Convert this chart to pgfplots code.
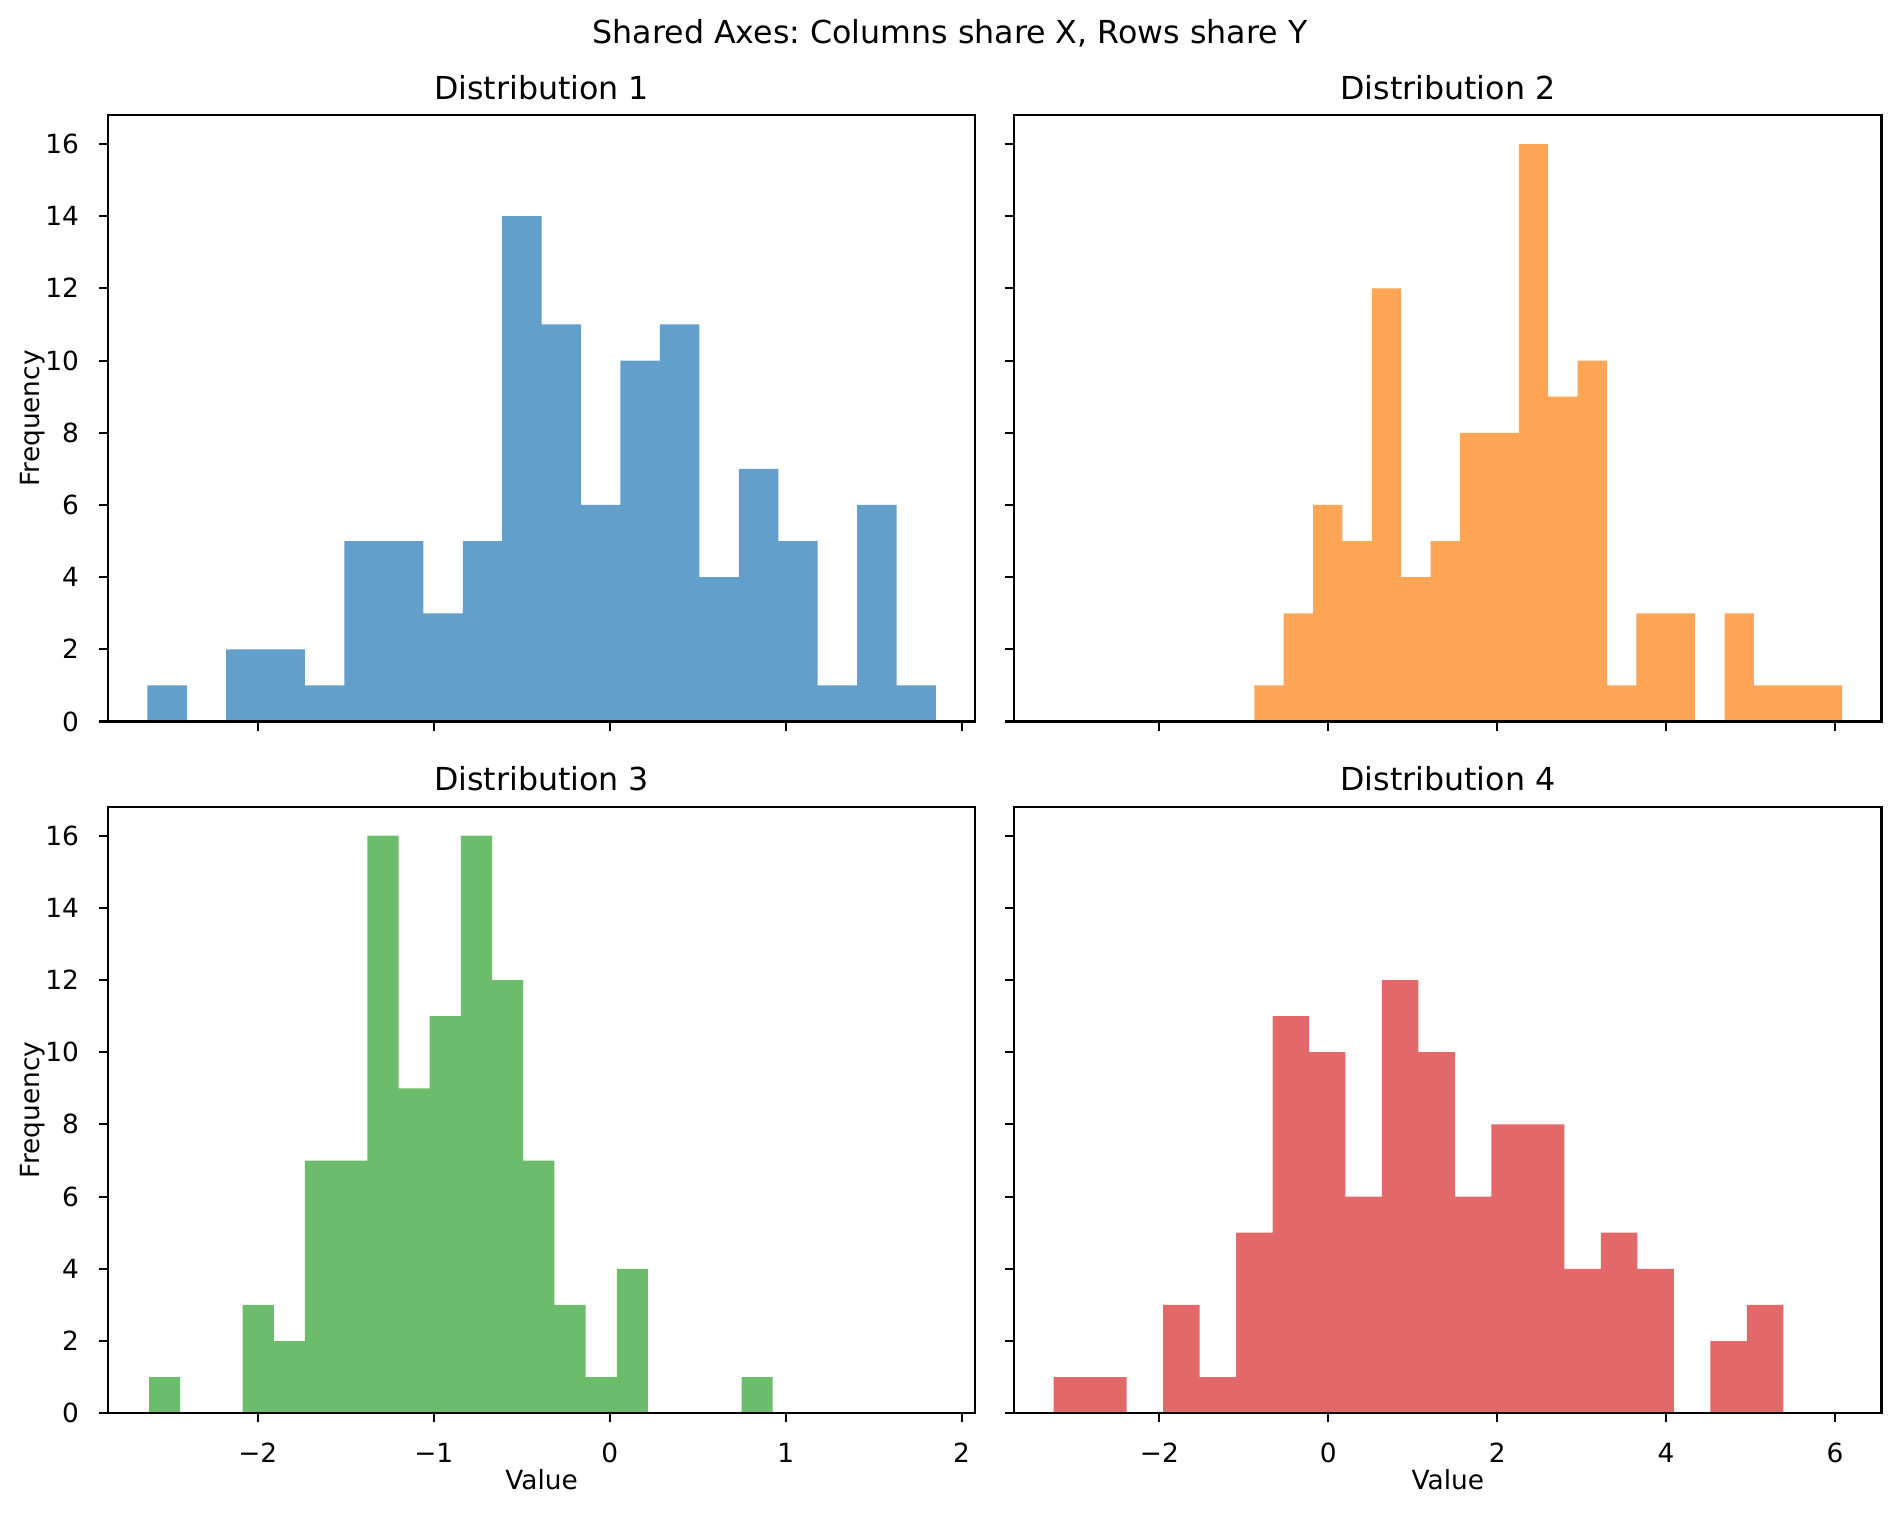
\documentclass[border=0pt]{standalone}
\usepackage{fontspec}
\setmainfont{DejaVu Sans}
\usepackage{pgfplots}
\pgfplotsset{compat=1.18}
\frenchspacing

% tab colours at alpha 0.7 on white
\definecolor{c1}{RGB}{98,160,203}
\definecolor{c2}{RGB}{255,165,86}
\definecolor{c3}{RGB}{107,189,107}
\definecolor{c4}{RGB}{226,104,105}

\pgfplotsset{
  histax/.style={
    scale only axis, width=328.7pt, height=229.8pt,
    anchor=north west,
    ymin=0, ymax=16.8,
    ytick={0,2,...,16},
    tick align=outside, major tick length=3.5pt,
    tick pos=left,
    axis on top,
    axis line style={line width=0.8pt},
    every tick/.style={black, line width=0.8pt},
    ticklabel style={font=\fontsize{10}{12}\selectfont},
    xticklabel style={anchor=base, yshift=-15.2pt},
    yticklabel style={anchor=base east, inner sep=0pt, xshift=-7.3pt, yshift=-3.6pt},
    title style={font=\fontsize{12}{14.4}\selectfont, at={(0.5,1)}, anchor=base, yshift=0pt},
    every axis x label/.style={at={(rel axis cs:0.5,0)}, anchor=base, yshift=-29pt,
      font=\fontsize{10}{12}\selectfont},
    every axis y label/.style={at={(rel axis cs:0,0.5)}, xshift=-25.8pt, rotate=90, anchor=base,
      font=\fontsize{10}{12}\selectfont},
  },
  leftcol/.style={xmin=-2.852, xmax=2.078, xtick={-2,-1,0,1,2},
    yticklabels={0,2,4,6,8,10,12,14,16}, ylabel={Frequency}},
  rightcol/.style={xmin=-3.720, xmax=6.552, xtick={-2,0,2,4,6}, yticklabels={}},
}

\begin{document}
\begin{tikzpicture}
\useasboundingbox (0,0) rectangle (720pt,573.73pt);

\node[font=\fontsize{12}{14.4}\selectfont, anchor=base] at (360pt,557.4pt)
  {Shared Axes: Columns share X, Rows share Y};

% Distribution 1
\begin{axis}[histax, leftcol, at={(40.9pt,530.1pt)}, xticklabels={}, title={Distribution 1}]
\addplot[ybar interval, fill=c1, draw=none] coordinates {
(-2.628,1) (-2.404,0) (-2.180,2) (-1.956,2) (-1.732,1)
(-1.508,5) (-1.283,5) (-1.059,3) (-0.835,5) (-0.611,14)
(-0.387,11) (-0.163,6) (0.061,10) (0.285,11) (0.509,4)
(0.734,7) (0.958,5) (1.182,1) (1.406,6) (1.630,1)
(1.854,0)
};
\end{axis}

% Distribution 2
\begin{axis}[histax, rightcol, at={(384.3pt,530.1pt)}, xticklabels={}, title={Distribution 2}]
\addplot[ybar interval, fill=c2, draw=none] coordinates {
(-0.876,1) (-0.528,3) (-0.180,6) (0.168,5) (0.516,12)
(0.864,4) (1.212,5) (1.560,8) (1.908,8) (2.256,16)
(2.605,9) (2.953,10) (3.301,1) (3.649,3) (3.997,3)
(4.345,0) (4.693,3) (5.041,1) (5.389,1) (5.737,1)
(6.085,0)
};
\end{axis}

% Distribution 3
\begin{axis}[histax, leftcol, at={(40.9pt,268.0pt)},
  xticklabels={−2,−1,0,1,2}, xlabel={Value}, title={Distribution 3}]
\addplot[ybar interval, fill=c3, draw=none] coordinates {
(-2.618,1) (-2.441,0) (-2.264,0) (-2.086,3) (-1.909,2)
(-1.732,7) (-1.555,7) (-1.378,16) (-1.200,9) (-1.023,11)
(-0.846,16) (-0.669,12) (-0.492,7) (-0.314,3) (-0.137,1)
(0.040,4) (0.217,0) (0.394,0) (0.571,0) (0.749,1)
(0.926,0)
};
\end{axis}

% Distribution 4
\begin{axis}[histax, rightcol, at={(384.3pt,268.0pt)},
  xticklabels={−2,0,2,4,6}, xlabel={Value}, title={Distribution 4}]
\addplot[ybar interval, fill=c4, draw=none] coordinates {
(-3.253,1) (-2.821,1) (-2.389,0) (-1.957,3) (-1.524,1)
(-1.092,5) (-0.660,11) (-0.228,10) (0.204,6) (0.636,12)
(1.068,10) (1.501,6) (1.933,8) (2.365,8) (2.797,4)
(3.229,5) (3.661,4) (4.093,0) (4.526,2) (4.958,3)
(5.390,0)
};
\end{axis}
\end{tikzpicture}
\end{document}
